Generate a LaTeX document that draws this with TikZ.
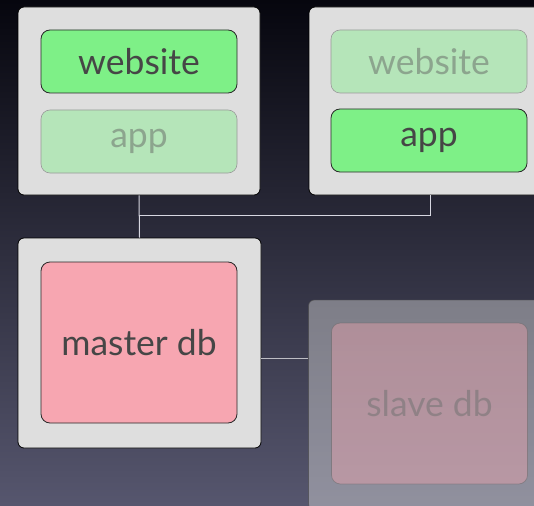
\documentclass[tikz,border=0pt]{standalone}
\usepackage{fontspec}
\setmainfont{Lato}
\begin{document}
\begin{tikzpicture}[x=1pt,y=-1pt,
  server/.style={draw=black, line width=0.8pt, fill=boxgray, rounded corners=6pt, inner sep=0pt},
  role/.style={rounded corners=9pt, inner sep=0pt, minimum width=196pt, minimum height=63pt, font=\fontsize{35.5}{36}\selectfont},
  active/.style={role, draw=edgedark, line width=0.8pt, fill=livegreen, text=textgray},
  idle/.style={role, draw=gray!80, line width=0.6pt, fill=palegreen, text=fadegreen},
  dbbox/.style={rounded corners=9pt, inner sep=0pt, minimum width=196pt, minimum height=161pt, font=\fontsize{35.5}{36}\selectfont},
  wire/.style={draw=wirewhite, line width=1pt},
]
\definecolor{boxgray}{RGB}{222,222,222}
\definecolor{edgedark}{RGB}{40,40,40}
\definecolor{livegreen}{RGB}{126,240,135}
\definecolor{palegreen}{RGB}{181,229,185}
\definecolor{fadegreen}{RGB}{140,165,142}
\definecolor{textgray}{RGB}{70,70,70}
\definecolor{dbpink}{RGB}{247,166,177}
\definecolor{wirewhite}{RGB}{215,215,225}
\definecolor{bgtop}{RGB}{6,6,14}
\definecolor{bgmid}{RGB}{30,30,60}
\definecolor{bgbot}{RGB}{86,86,110}

% backdrop
\useasboundingbox (0,0) rectangle (534,505);
\shade[top color=bgtop, middle color=bgmid, bottom color=bgbot] (0,0) rectangle (534,505);

% web servers
\node[server, minimum width=242pt, minimum height=188pt] (srvA) at (139,101) {};
\node[active] (webA) at (139,61.5) {website};
\node[idle] (appA) at (139,141.5) {app};

\node[server, minimum width=242pt, minimum height=188pt] (srvB) at (430,101) {};
\node[idle] (webB) at (429,61.5) {website};
\node[active] (appB) at (429,140.5) {app};

% database servers
\node[server, minimum width=243pt, minimum height=210pt] (srvM) at (139.5,343) {};
\node[dbbox, draw=edgedark, line width=0.8pt, fill=dbpink, text=textgray] (master) at (139,342.5) {master db};

\node[draw=black!70, draw opacity=0.6, line width=0.8pt, fill=boxgray, fill opacity=0.43,
      rounded corners=6pt, inner sep=0pt, minimum width=243pt, minimum height=210pt] (srvS) at (430,405) {};
\node[dbbox, draw=black!60, draw opacity=0.5, line width=0.7pt, fill=dbpink, fill opacity=0.4,
      text=black!55, text opacity=0.55] (slave) at (429.5,403.5) {slave db};

% connections
\coordinate (jA) at (139,215);
\coordinate (mOut) at (261,358);
\draw[wire] (srvA.south) -- (srvM.north);
\draw[wire] (jA) -| (srvB.south);
\draw[draw=wirewhite!70!gray, line width=0.8pt] (mOut) -- (srvS.west |- mOut);
\end{tikzpicture}
\end{document}
